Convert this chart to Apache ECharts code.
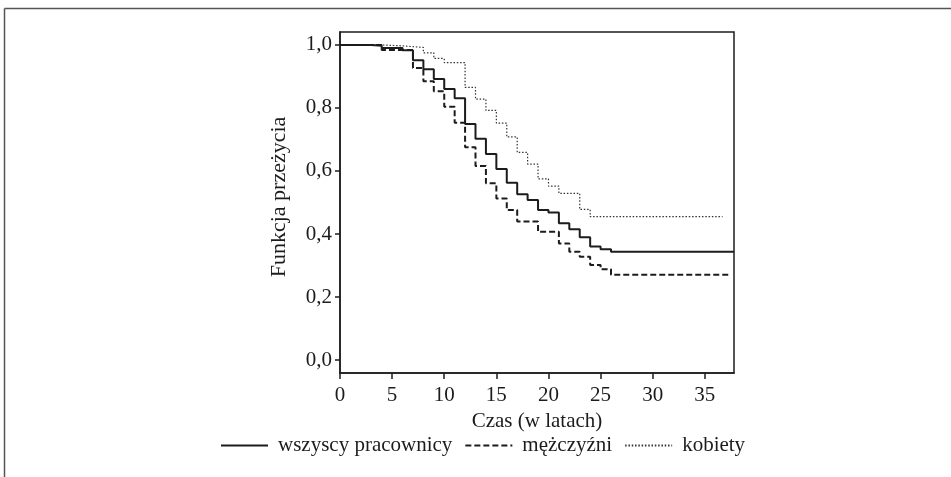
<!DOCTYPE html>
<html>
<head>
<meta charset="utf-8">
<script src="https://cdn.jsdelivr.net/npm/echarts@6/dist/echarts.min.js"></script>
<style>
html,body{margin:0;padding:0;background:#fff;}
#chart{width:951px;height:477px;}
</style>
</head>
<body>
<div id="chart"></div>
<script>
// ---- data ----
const seriesNames = ['wszyscy pracownicy', 'mężczyźni', 'kobiety'];

const allTimes  = [0, 3, 4, 6, 7, 8, 9, 10, 11, 12, 13, 14, 15, 16, 17, 18, 19, 20, 21, 22, 23, 24, 25, 26, 37.8];
const allValues = [1.0, 0.997, 0.990, 0.983, 0.951, 0.923, 0.892, 0.860, 0.831, 0.749, 0.702, 0.654, 0.606, 0.563, 0.526, 0.508, 0.476, 0.468, 0.434, 0.415, 0.390, 0.360, 0.352, 0.344, 0.344];

const menTimes  = [0, 4, 7, 8, 9, 10, 11, 12, 13, 14, 15, 16, 17, 19, 21, 22, 23, 24, 25, 26, 37.5];
const menValues = [1.0, 0.984, 0.927, 0.885, 0.853, 0.804, 0.753, 0.675, 0.616, 0.561, 0.513, 0.476, 0.440, 0.407, 0.370, 0.344, 0.328, 0.302, 0.288, 0.271, 0.271];

const womenTimes  = [0, 4, 6, 8, 9, 10, 12, 13, 14, 15, 16, 17, 18, 19, 20, 21, 23, 24, 36.7];
const womenValues = [1.0, 0.997, 0.992, 0.975, 0.957, 0.944, 0.865, 0.828, 0.792, 0.752, 0.708, 0.659, 0.622, 0.575, 0.552, 0.529, 0.478, 0.455, 0.455];

const xTicks = [0, 5, 10, 15, 20, 25, 30, 35];
const yTicks = [0, 0.2, 0.4, 0.6, 0.8, 1.0];
const xTitle = 'Czas (w latach)';
const yTitle = 'Funkcja przeżycia';

// ---- build ----
function pairs(t, v) { return t.map((x, i) => [x, v[i]]); }
const FONT = '"Liberation Serif", "Times New Roman", serif';
const INK = '#1c1c1c';

const chart = echarts.init(document.getElementById('chart'), null, {renderer: 'canvas'});
chart.setOption({
  backgroundColor: '#fff',
  animation: false,
  textStyle: {fontFamily: FONT, color: INK},
  graphic: [
    {type: 'line', shape: {x1: 4.5, y1: 8.5, x2: 951, y2: 8.5}, style: {stroke: '#555', lineWidth: 1.5}, silent: true},
    {type: 'line', shape: {x1: 4.5, y1: 8.5, x2: 4.5, y2: 477}, style: {stroke: '#555', lineWidth: 1.5}, silent: true}
  ],
  grid: {
    left: 340, top: 32, width: 394, height: 341,
    show: true, borderColor: INK, borderWidth: 1.5, backgroundColor: 'transparent'
  },
  legend: {
    left: 220, top: 435, padding: 0,
    itemWidth: 47, itemHeight: 14, itemGap: 12,
    itemStyle: {opacity: 0},
    textStyle: {fontFamily: FONT, fontSize: 21, color: INK, padding: [0, 0, 0, 5]},
    data: seriesNames
  },
  xAxis: {
    type: 'value', min: 0, max: 37.8,
    name: xTitle, nameLocation: 'middle', nameGap: 32,
    nameTextStyle: {fontFamily: FONT, fontSize: 21, color: INK},
    axisLine: {show: true, onZero: false, lineStyle: {color: INK, width: 1.5}},
    axisTick: {show: true, inside: false, length: 6, lineStyle: {color: INK, width: 1.5}, customValues: xTicks},
    axisLabel: {fontFamily: FONT, fontSize: 21, color: INK, margin: 12, customValues: xTicks,
      formatter: v => String(v)},
    splitLine: {show: false}
  },
  yAxis: {
    type: 'value', min: -0.041, max: 1.041,
    name: yTitle, nameLocation: 'middle', nameGap: 50, nameRotate: 90,
    nameTextStyle: {fontFamily: FONT, fontSize: 22, color: INK, padding: [0, 0, 0, 11]},
    axisLine: {show: true, onZero: false, lineStyle: {color: INK, width: 1.5}},
    axisTick: {show: true, inside: false, length: 5, lineStyle: {color: INK, width: 1.5}, customValues: yTicks},
    axisLabel: {fontFamily: FONT, fontSize: 21, color: INK, margin: 8, customValues: yTicks,
      formatter: v => v.toFixed(1).replace('.', ',')},
    splitLine: {show: false}
  },
  series: [
    {
      name: seriesNames[0], type: 'line', step: 'end', symbol: 'none', showSymbol: false,
      data: pairs(allTimes, allValues),
      lineStyle: {color: INK, width: 2, type: 'solid'}, itemStyle: {color: INK}, z: 3
    },
    {
      name: seriesNames[1], type: 'line', step: 'end', symbol: 'none', showSymbol: false,
      data: pairs(menTimes, menValues),
      lineStyle: {color: INK, width: 2, type: [6, 3]}, itemStyle: {color: INK}, z: 2
    },
    {
      name: seriesNames[2], type: 'line', step: 'end', symbol: 'none', showSymbol: false,
      data: pairs(womenTimes, womenValues),
      lineStyle: {color: '#333', width: 1.2, type: [1.5, 1.8]}, itemStyle: {color: '#333'}, z: 1
    }
  ]
});
</script>
</body>
</html>
